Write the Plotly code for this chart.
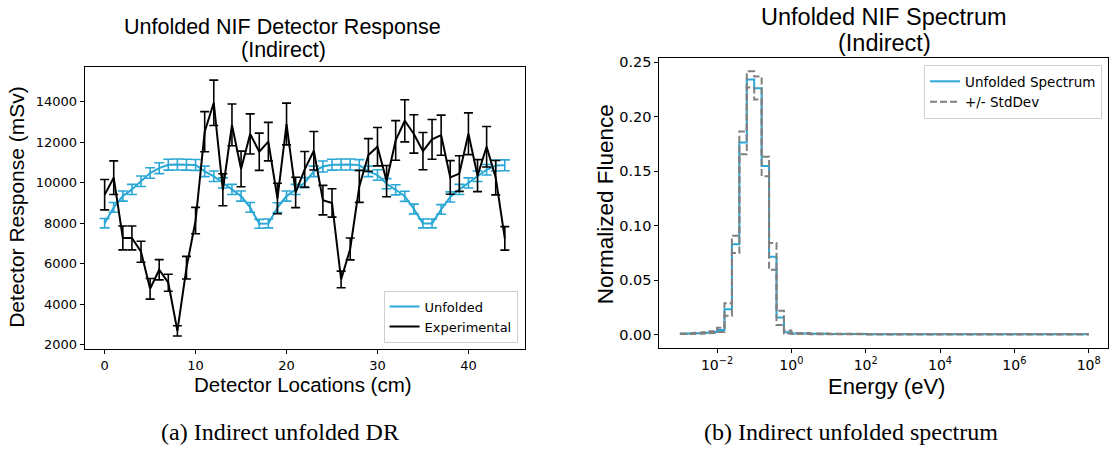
import plotly.graph_objects as go

# ---------------- data: detector response ----------------
locations = list(range(45))

unfolded_dr = [8000, 8780, 9340, 9670, 10070, 10480, 10720, 10890, 10900, 10890,
               10880, 10560, 10320, 9990, 9670, 9340, 8780, 7970, 7990, 8770,
               9340, 9670, 10000, 10560, 10800, 10890, 10900, 10900, 10870, 10560,
               10380, 9950, 9650, 9330, 8700, 7990, 7990, 8680, 9300, 9670,
               9990, 10320, 10640, 10850, 10860]
unfolded_err = [230, 240, 250, 250, 260, 260, 270, 270, 270, 270,
                270, 260, 260, 250, 250, 250, 240, 220, 220, 240,
                250, 250, 250, 260, 270, 270, 270, 270, 270, 260,
                260, 250, 250, 250, 240, 220, 220, 240, 250, 250,
                250, 260, 260, 270, 270]

experimental_dr = [9410, 10250, 7270, 7270, 6590, 4760, 5700, 5060, 2680, 5800,
                   8130, 12520, 13950, 9650, 12860, 10680, 12410, 11530, 12030, 9220,
                   12900, 9520, 10660, 11580, 9140, 9000, 5220, 6730, 9820, 11370,
                   11780, 10080, 12090, 13060, 12410, 11560, 12140, 12350, 10260, 10450,
                   12420, 10350, 11780, 10250, 7250]
experimental_err = [750, 830, 590, 590, 520, 510, 500, 420, 250, 560,
                    650, 990, 1120, 790, 1030, 880, 990, 920, 950, 750,
                    1030, 750, 880, 950, 730, 700, 410, 540, 790, 810,
                    950, 770, 980, 1040, 950, 920, 980, 990, 830, 880,
                    1030, 790, 1000, 850, 580]

# ---------------- data: spectrum ----------------
energy_edges = [1.0e-3, 1.585e-3, 2.512e-3, 3.981e-3, 6.310e-3, 1.0e-2,
                1.585e-2, 2.512e-2, 3.981e-2, 6.310e-2, 1.0e-1,
                0.1585, 0.2512, 0.3981, 0.6310, 1.0,
                3.162, 10.0, 100.0, 1.0e4, 1.0e6, 1.0e8]
spectrum = [0.0010, 0.0011, 0.0014, 0.0018, 0.0025, 0.0045,
            0.0235, 0.0830, 0.1765, 0.2343, 0.2262,
            0.1550, 0.0717, 0.0160, 0.0024,
            0.0012, 0.0009, 0.0007, 0.0006, 0.0005, 0.0005]
spectrum_upper = [0.0013, 0.0014, 0.0018, 0.0023, 0.0033, 0.0065,
                  0.0290, 0.0910, 0.1867, 0.2418, 0.2370,
                  0.1635, 0.0843, 0.0220, 0.0040,
                  0.0016, 0.0012, 0.0009, 0.0008, 0.0007, 0.0007]
spectrum_lower = [0.0007, 0.0008, 0.0010, 0.0013, 0.0017, 0.0025,
                  0.0175, 0.0750, 0.1656, 0.2270, 0.2160,
                  0.1455, 0.0596, 0.0090, 0.0012,
                  0.0008, 0.0006, 0.0005, 0.0004, 0.0004, 0.0004]

BLUE = "#2aa7d4"
GRAY = "#808080"
TICKFONT = "DejaVu Sans"
LABELFONT = "Liberation Sans, Arial, sans-serif"
SERIF = "Liberation Serif, DejaVu Serif, serif"

fig = go.Figure()

fig.add_trace(go.Scatter(
    x=locations, y=unfolded_dr, name="Unfolded", mode="lines",
    line=dict(color=BLUE, width=2),
    error_y=dict(type="data", array=unfolded_err, color=BLUE, thickness=1.6, width=5),
    xaxis="x", yaxis="y", legend="legend"))
fig.add_trace(go.Scatter(
    x=locations, y=experimental_dr, name="Experimental", mode="lines",
    line=dict(color="black", width=2),
    error_y=dict(type="data", array=experimental_err, color="black", thickness=1.6, width=4.5),
    xaxis="x", yaxis="y", legend="legend"))

def step(vals):
    return list(vals) + [vals[-1]]

fig.add_trace(go.Scatter(
    x=energy_edges, y=step(spectrum), name="Unfolded Spectrum", mode="lines",
    line=dict(color=BLUE, width=2, shape="hv"),
    xaxis="x2", yaxis="y2", legend="legend2"))
fig.add_trace(go.Scatter(
    x=energy_edges, y=step(spectrum_upper), name="+/- StdDev", mode="lines",
    line=dict(color=GRAY, width=2, shape="hv", dash="7px,3px"),
    xaxis="x2", yaxis="y2", legend="legend2"))
fig.add_trace(go.Scatter(
    x=energy_edges, y=step(spectrum_lower), name="+/- StdDev", mode="lines",
    line=dict(color=GRAY, width=2, shape="hv", dash="7px,3px"),
    xaxis="x2", yaxis="y2", legend="legend2", showlegend=False))

W, H = 1109, 452

def px(x):
    return x / W

def py(y):
    return (H - y) / H

axis_common = dict(showline=True, linecolor="black", linewidth=1, mirror=True,
                   ticks="outside", ticklen=4, tickwidth=1, tickcolor="black",
                   showgrid=False, zeroline=False)

fig.update_layout(
    width=W, height=H,
    margin=dict(l=0, r=0, t=0, b=0),
    paper_bgcolor="white", plot_bgcolor="white",
    xaxis=dict(domain=[px(84.7), px(525.3)], range=[-2.2, 46.2], tickvals=[0, 10, 20, 30, 40],
               tickfont=dict(family=TICKFONT, size=13, color="black"), anchor="y", **axis_common),
    yaxis=dict(domain=[py(350.7), py(64.3)], range=[1772, 15702],
               tickvals=[2000, 4000, 6000, 8000, 10000, 12000, 14000], tickformat="d",
               tickfont=dict(family=TICKFONT, size=13, color="black"), anchor="x", **axis_common),
    xaxis2=dict(domain=[px(660), 1.0], type="log", range=[-3.551, 8.52],
                tickvals=[1e-2, 1e0, 1e2, 1e4, 1e6, 1e8],
                ticktext=["10<sup>\u22122</sup>", "10<sup>0</sup>", "10<sup>2</sup>",
                          "10<sup>4</sup>", "10<sup>6</sup>", "10<sup>8</sup>"],
                tickfont=dict(family=TICKFONT, size=14, color="black"), anchor="y2", **axis_common),
    yaxis2=dict(domain=[py(349.3), py(55)], range=[-0.012, 0.2539],
                tickvals=[0.0, 0.05, 0.10, 0.15, 0.20, 0.25], tickformat=".2f",
                tickfont=dict(family=TICKFONT, size=14.5, color="black"), anchor="x2", **axis_common),
    legend=dict(x=px(518), xanchor="right", y=py(344), yanchor="bottom",
                bgcolor="white", bordercolor="#d0d0d0", borderwidth=1,
                font=dict(family=TICKFONT, size=13, color="black"), tracegroupgap=0),
    legend2=dict(x=px(1103), xanchor="right", y=py(62), yanchor="top",
                 bgcolor="white", bordercolor="#d0d0d0", borderwidth=1,
                 font=dict(family=TICKFONT, size=13.5, color="black"), tracegroupgap=0),
    showlegend=True,
)

def ann(text, x, y, size, family=LABELFONT, angle=0):
    fig.add_annotation(text=text, x=px(x), y=py(y), xref="paper", yref="paper",
                       xanchor="center", yanchor="middle", showarrow=False, textangle=angle,
                       font=dict(family=family, size=size, color="black"))

ann("Unfolded NIF Detector Response", 283, 23, 21.5)
ann("(Indirect)", 284, 47, 21.5)
ann("Unfolded NIF Spectrum", 885, 13, 23.5)
ann("(Indirect)", 885, 40, 23.5)
ann("Detector Response (mSv)", 17, 206, 21, angle=-90)
ann("Detector Locations (cm)", 303, 386, 20.5)
ann("Normalized Fluence", 606, 203, 22.5, angle=-90)
ann("Energy (eV)", 887, 389, 22)
ann("(a) Indirect unfolded DR", 280, 435, 24, family=SERIF)
ann("(b) Indirect unfolded spectrum", 852, 435, 24, family=SERIF)

fig.write_html("out.html")
